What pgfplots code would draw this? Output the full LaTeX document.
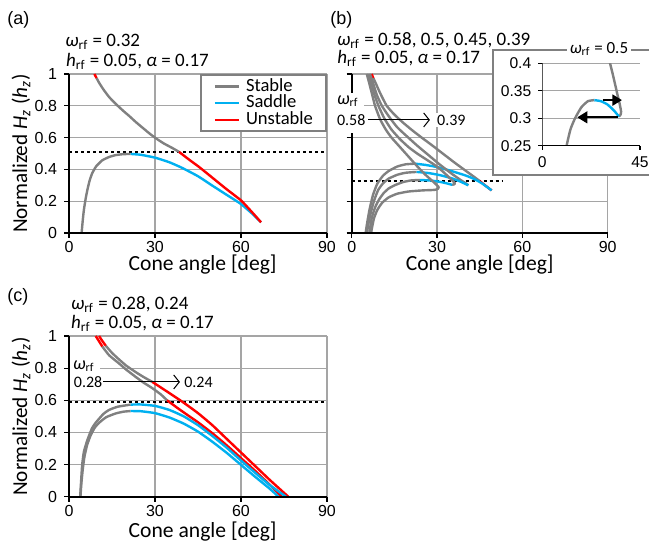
\documentclass[border=0pt]{standalone}
\usepackage{fontspec}
\setmainfont{Carlito}
\newfontfamily\arialf{Liberation Sans}
\usepackage{pgfplots}
\pgfplotsset{compat=1.18}
\usetikzlibrary{arrows.meta}
\definecolor{cgray}{RGB}{128,128,128}
\definecolor{cblue}{RGB}{0,176,240}
\definecolor{cred}{RGB}{255,0,0}
\definecolor{cgrid}{RGB}{165,165,165}
\pgfplotsset{
  panel/.style={
    scale only axis, anchor=south west, clip=false,
    xmin=0, xmax=90, ymin=0, ymax=1,
    xtick={0,30,60,90}, ytick={0,0.2,0.4,0.6,0.8,1},
    tick pos=left, tick align=outside,
    major tick length=2.5pt,
    tick style={black, line width=0.6pt},
    grid=major, major grid style={cgrid, line width=0.6pt},
    axis line style={draw=none},
    tick label style={font=\arialf\fontsize{8}{9}\selectfont},
    xticklabel style={inner sep=0.5pt, yshift=-1.2pt},
    /pgf/number format/assume math mode=true,
    xlabel={Cone angle [deg]},
    every axis x label/.style={at={(axis description cs:0.518,-0.236)}, anchor=base, inner sep=0pt, font=\fontsize{10.8}{12}\selectfont},
    every axis y label/.style={at={(axis description cs:-0.162,0.5)}, rotate=90, anchor=base, inner sep=0pt, font=\fontsize{10.6}{12}\selectfont},
  },
  cur/.style={line width=1.2pt, line join=round, smooth, tension=0.3, forget plot},
  dotl/.style={black, line width=1.3pt, dash pattern=on 1.4pt off 1.6pt, forget plot},
}
\begin{document}
\begin{tikzpicture}[x=1pt,y=1pt]
\useasboundingbox (0,0) rectangle (324.5,273);

% ---------------- (a) ----------------
\begin{axis}[panel, at={(34.5pt,156.5pt)}, width=129pt, height=79.5pt,
  ylabel={Normalized \textit{H}\textsubscript{\textit{z}} (\textit{h}\textsubscript{\textit{z}})},
  legend style={at={(1,1)}, anchor=north east, draw=cgray, line width=1pt, fill=white,
    font=\fontsize{9.3}{10}\selectfont, inner xsep=6.5pt, inner ysep=1.5pt, row sep=0pt,
    nodes={inner sep=0pt, text height=6.6pt, text depth=1.8pt},
    /tikz/every odd column/.append style={column sep=3pt}},
  legend cell align=left,
  legend image code/.code={\draw[#1] (0pt,0pt) -- (12pt,0pt);},
]
\addplot[dotl] coordinates {(0,0.51) (90,0.51)};
\addplot[cur, cgray] coordinates {(4.4,0) (4.8,0.08) (5.2,0.146) (5.8,0.215) (6.4,0.27) (7.2,0.33) (8.1,0.376) (9.5,0.42) (11.6,0.457) (14,0.478) (16.3,0.49) (19,0.496) (21.5,0.497)};
\addplot[cur, cblue] coordinates {(21.5,0.497) (25,0.492) (30,0.474) (35,0.445) (39.4,0.41) (45,0.357) (50,0.298) (55,0.24) (60,0.182) (64,0.12) (67,0.067)};
\addplot[cur, cgray] coordinates {(9.6,0.975) (10.5,0.945) (12,0.903) (14,0.855) (16.3,0.812) (19,0.767) (21,0.736) (23.3,0.698) (26,0.657) (28,0.627) (30.2,0.597) (33,0.564) (36,0.535) (38.4,0.51)};
\addplot[cur, cred] coordinates {(8.85,1) (9.6,0.975)};
\addplot[cur, cred] coordinates {(38.4,0.51) (42,0.46) (45.4,0.415) (50,0.348) (55,0.275) (60,0.205) (64,0.128) (67,0.067)};
\addlegendimage{cgray, line width=1.2pt}\addlegendentry{Stable}
\addlegendimage{cblue, line width=1.2pt}\addlegendentry{Saddle}
\addlegendimage{cred, line width=1.2pt}\addlegendentry{Unstable}
\draw[black, line width=1pt] (rel axis cs:0,0) -- (rel axis cs:1,0);
\draw[black, line width=1pt] (rel axis cs:0,0) -- (rel axis cs:0,1);
\end{axis}

% ---------------- (b) ----------------
\begin{axis}[panel, at={(175.85pt,156.5pt)}, width=128pt, height=79.5pt,
  yticklabels={},
  every axis x label/.append style={at={(axis description cs:0.5,-0.236)}}]
\addplot[dotl] coordinates {(0,0.327) (53,0.327)};
% omega = 0.39
\addplot[cur, cgray] coordinates {(7.6,0.975) (8.5,0.94) (10,0.88) (12.3,0.8) (15,0.745) (18,0.695) (21,0.65) (24.6,0.6) (28,0.555) (32,0.5) (36,0.445) (39.8,0.395) (42.5,0.36) (45,0.327)};
\addplot[cur, cred] coordinates {(7.0,1) (7.6,0.975)};
\addplot[cur, cred] coordinates {(45,0.327) (47,0.298) (49.2,0.268)};
\addplot[cur, cgray] coordinates {(22.3,0.436) (19,0.432) (16,0.418) (13,0.39) (11,0.36) (9,0.31) (7.5,0.24) (6.3,0.15) (5.4,0.06) (4.9,0)};
\addplot[cur, cblue] coordinates {(49.2,0.268) (46,0.31) (43,0.34) (40,0.362) (35,0.39) (30.5,0.413) (26,0.428) (22.3,0.436)};
% omega = 0.45
\addplot[cur, cgray] coordinates {(6.4,1) (7.4,0.95) (8.8,0.87) (10.6,0.8) (13,0.735) (16,0.665) (19.9,0.6) (23,0.55) (27,0.49) (31,0.43) (35,0.375) (38,0.337) (40.3,0.31) (41,0.3)};
\addplot[cur, cgray] coordinates {(22.8,0.384) (19,0.379) (16,0.366) (13,0.342) (11,0.312) (9.3,0.27) (7.8,0.2) (6.6,0.12) (5.7,0.04) (5.4,0)};
\addplot[cur, cblue] coordinates {(41,0.3) (38,0.325) (35,0.345) (31,0.364) (27,0.377) (22.8,0.384)};
% omega = 0.5
\addplot[cur, cgray] coordinates {(5.9,1) (6.9,0.94) (8,0.87) (9.4,0.8) (11.5,0.72) (14,0.65) (17,0.59) (20,0.54) (23,0.5) (26,0.465) (29,0.43) (31.2,0.4) (32.7,0.376) (34.5,0.345) (35.7,0.325) (36.3,0.312) (36,0.306) (35.3,0.303)};
\addplot[cur, cgray] coordinates {(24,0.333) (21,0.331) (18,0.32) (15.1,0.3) (13,0.28) (11.2,0.25) (9.6,0.21) (8.2,0.16) (7,0.09) (6.2,0)};
\addplot[cur, cblue] coordinates {(35.3,0.303) (33,0.314) (30,0.325) (27,0.331) (24,0.333)};
% omega = 0.58
\addplot[cur, cgray] coordinates {(5.3,1) (6.2,0.94) (7.2,0.87) (8.2,0.8) (10,0.715) (12,0.65) (14,0.6) (17,0.54) (20,0.48) (23,0.42) (26,0.365) (28.5,0.325) (30,0.3) (30.6,0.288) (30.3,0.278) (29.5,0.272) (28,0.27) (25,0.268) (20,0.261) (16,0.247) (13,0.224) (10.7,0.19) (9,0.145) (7.8,0.09) (7,0.02) (6.9,0)};
\draw[black, line width=1pt] (rel axis cs:0,0) -- (rel axis cs:1,0);
\draw[black, line width=1pt] (rel axis cs:0,0) -- (rel axis cs:0,1);
\fill[white] (axis cs:-6.2,0.629) rectangle (axis cs:4.3,0.88);
\node[anchor=west, inner sep=1pt, font=\fontsize{9}{10}\selectfont] at (axis cs:-6.0,0.83) {\textit{ω}\textsubscript{rf}};
\node[anchor=west, inner sep=1pt, font=\fontsize{8}{9}\selectfont] at (axis cs:-6.0,0.711) {0.58};
\draw[line width=0.5pt, -{Straight Barb[length=2.8pt,width=7pt]}] (axis cs:5.8,0.711) -- (axis cs:27.5,0.711);
\node[anchor=west, fill=white, inner sep=1pt, font=\fontsize{8}{9}\selectfont] at (axis cs:29.2,0.711) {0.39};
\end{axis}

% inset frame
\filldraw[draw=cgray, fill=white, line width=1pt] (246.5,248) rectangle (340,185.25);
\node[fill=white, inner sep=1.5pt, font=\fontsize{8.5}{10}\selectfont] at (299.5,248.5) {\textit{ω}\textsubscript{rf} = 0.5};

% ---------------- inset ----------------
\begin{axis}[scale only axis, anchor=south west, at={(271.15pt,200.15pt)}, width=48.85pt, height=41.2pt,
  xmin=0, xmax=45, ymin=0.25, ymax=0.4,
  xtick={0,45}, ytick={0.25,0.3,0.35,0.4}, yticklabels={0.25,0.3,0.35,0.4},
  tick pos=left, tick align=outside, major tick length=2pt,
  tick style={black, line width=0.6pt},
  ymajorgrids, major grid style={cgrid, line width=0.6pt},
  axis line style={draw=none},
  tick label style={font=\arialf\fontsize{7.8}{9}\selectfont},
  /pgf/number format/assume math mode=true,
]
\addplot[cur, cgray] coordinates {(5.9,1) (6.9,0.94) (8,0.87) (9.4,0.8) (11.5,0.72) (14,0.65) (17,0.59) (20,0.54) (23,0.5) (26,0.465) (29,0.43) (31.2,0.4) (32.7,0.376) (34.5,0.345) (35.7,0.325) (36.3,0.312) (36,0.306) (35.3,0.303)};
\addplot[cur, cgray] coordinates {(24,0.333) (21,0.331) (18,0.32) (15.1,0.3) (13,0.28) (11.2,0.25) (9.6,0.21)};
\addplot[cur, cblue] coordinates {(35.3,0.303) (33,0.314) (30,0.325) (27,0.331) (24,0.333)};
\draw[black, line width=1.1pt, -{Triangle[length=4.8pt,width=5.5pt]}] (axis cs:27.8,0.333) -- (axis cs:36.7,0.333);
\draw[black, line width=1.1pt, -{Triangle[length=5pt,width=5.8pt]}] (axis cs:35,0.3016) -- (axis cs:16.1,0.3016);
\draw[black, line width=1pt] (rel axis cs:0,0) -- (rel axis cs:1,0);
\draw[black, line width=1pt] (rel axis cs:0,0) -- (rel axis cs:0,1);
\end{axis}

% ---------------- (c) ----------------
\begin{axis}[panel, at={(34.5pt,24.65pt)}, width=129pt, height=80.35pt,
  ylabel={Normalized \textit{H}\textsubscript{\textit{z}} (\textit{h}\textsubscript{\textit{z}})},
  every axis x label/.append style={at={(axis description cs:0.518,-0.252)}}]
\addplot[dotl] coordinates {(0,0.59) (90,0.59)};
% omega = 0.28
\addplot[cur, cgray] coordinates {(11.6,0.935) (14,0.88) (17.4,0.83) (20,0.79) (23.3,0.745) (26,0.71) (29.1,0.675) (32,0.637) (34.2,0.6)};
\addplot[cur, cred] coordinates {(9.3,1) (10.2,0.975) (11.6,0.935)};
\addplot[cur, cred] coordinates {(34.2,0.6) (38,0.55) (42,0.5) (45,0.463) (50,0.395) (55,0.32) (60,0.24) (65,0.16) (70,0.075) (74.2,0)};
\addplot[cur, cgray] coordinates {(4.0,0) (4.3,0.08) (4.8,0.17) (5.4,0.25) (6.3,0.32) (7.5,0.38) (9,0.43) (10.5,0.46) (13,0.495) (16.3,0.518) (19,0.529) (21.5,0.533)};
\addplot[cur, cblue] coordinates {(21.5,0.533) (25,0.532) (30,0.52) (35,0.493) (40,0.455) (45,0.405) (50,0.342) (55,0.273) (60,0.198) (65,0.123) (70,0.05) (73.1,0)};
% omega = 0.24
\addplot[cur, cgray] coordinates {(12.8,0.94) (15,0.895) (17.4,0.855) (20,0.815) (23.3,0.775) (26,0.745) (29.1,0.714)};
\addplot[cur, cred] coordinates {(10.5,1) (11.4,0.975) (12.8,0.94)};
\addplot[cur, cred] coordinates {(29.1,0.714) (32,0.68) (35,0.645) (40,0.585) (45,0.52) (50,0.445) (55,0.36) (60,0.275) (65,0.19) (70,0.105) (76.5,0)};
\addplot[cur, cgray] coordinates {(3.9,0) (4.2,0.09) (4.6,0.2) (5.2,0.28) (6.4,0.352) (8,0.425) (9.3,0.46) (12,0.515) (14,0.54) (17,0.56) (21.5,0.573)};
\addplot[cur, cblue] coordinates {(21.5,0.573) (25,0.574) (30,0.565) (35,0.54) (40,0.5) (45,0.445) (50,0.378) (55,0.305) (60,0.225) (65,0.148) (70,0.073) (75.7,0)};
\draw[black, line width=1pt] (rel axis cs:0,0) -- (rel axis cs:1,0);
\draw[black, line width=1pt] (rel axis cs:0,0) -- (rel axis cs:0,1);
\fill[white] (axis cs:0.5,0.67) rectangle (axis cs:10.8,0.85);
\node[anchor=west, inner sep=1pt, font=\fontsize{9}{10}\selectfont] at (axis cs:0.6,0.81) {\textit{ω}\textsubscript{rf}};
\node[anchor=west, inner sep=1pt, font=\fontsize{8}{9}\selectfont] at (axis cs:0.9,0.714) {0.28};
\draw[line width=0.5pt, -{Straight Barb[length=2.8pt,width=7pt]}] (axis cs:12,0.714) -- (axis cs:38.7,0.714);
\node[anchor=west, fill=white, inner sep=1pt, font=\fontsize{8}{9}\selectfont] at (axis cs:39.4,0.714) {0.24};
\end{axis}

% ---------------- titles ----------------
\begin{scope}[every node/.style={anchor=base west, inner sep=0pt, font=\fontsize{9.5}{11}\selectfont}]
\node at (32.5,249.65) {\textit{ω}\textsubscript{rf} = 0.32};
\node at (32.85,239.65) {\textit{h}\textsubscript{rf} = 0.05, \textit{α} = 0.17};
\node at (168.35,250.15) {\textit{ω}\textsubscript{rf} = 0.58, 0.5, 0.45, 0.39};
\node at (168.5,241.35) {\textit{h}\textsubscript{rf} = 0.05, \textit{α} = 0.17};
\node at (35.35,118.0) {\textit{ω}\textsubscript{rf} = 0.28, 0.24};
\node at (35.35,108.85) {\textit{h}\textsubscript{rf} = 0.05, \textit{α} = 0.17};
\end{scope}
\begin{scope}[every node/.style={anchor=base west, inner sep=0pt, font=\arialf\fontsize{9}{11}\selectfont}]
\node at (3.5,260.75) {(a)};
\node at (165,260.75) {(b)};
\node at (3.5,122.25) {(c)};
\end{scope}
\end{tikzpicture}
\end{document}
